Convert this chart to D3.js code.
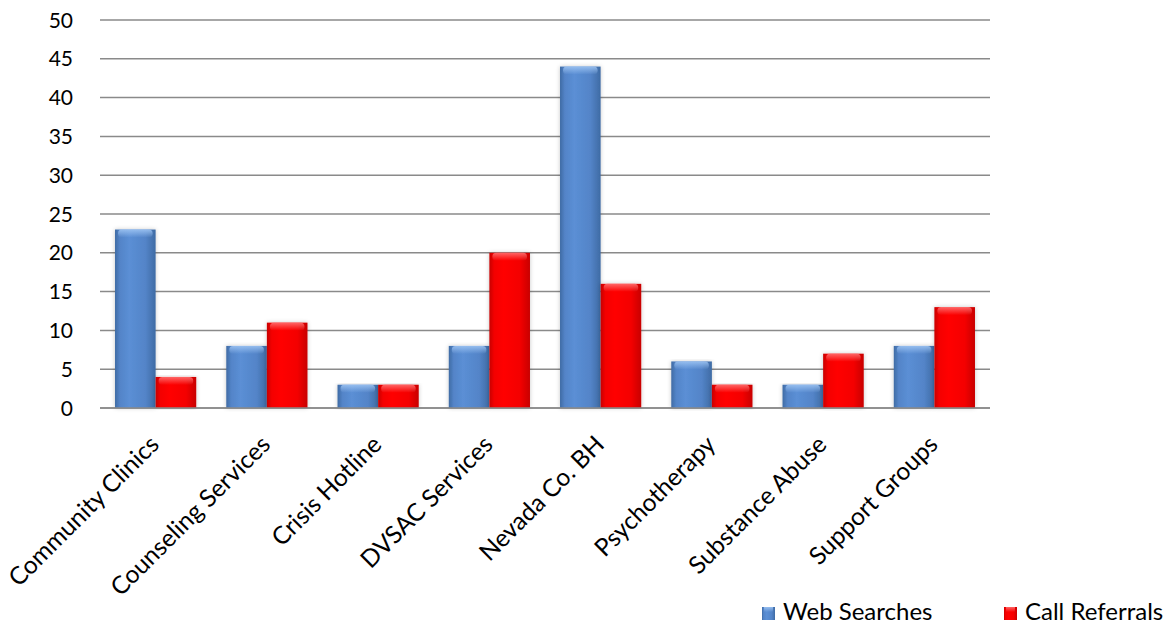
<!DOCTYPE html>
<html>
<head>
<meta charset="utf-8">
<script src="https://cdn.jsdelivr.net/npm/d3@7"></script>
<style>
  html, body { margin: 0; padding: 0; background: #fff; }
  svg { display: block; }
  text { font-family: Lato, "Open Sans", sans-serif; fill: #000; }
</style>
</head>
<body>
<svg id="chart" width="1176" height="624"></svg>
<script>
const categories = ["Community Clinics", "Counseling Services", "Crisis Hotline", "DVSAC Services",
                    "Nevada Co. BH", "Psychotherapy", "Substance Abuse", "Support Groups"];
const seriesNames = ["Web Searches", "Call Referrals"];
const webSearches = [23, 8, 3, 8, 44, 6, 3, 8];
const callReferrals = [4, 11, 3, 20, 16, 3, 7, 13];
const yTicks = [0, 5, 10, 15, 20, 25, 30, 35, 40, 45, 50];

const svg = d3.select("#chart");
const margin = { left: 100, right: 186, top: 20, bottom: 216 };
const W = 1176, H = 624;
const plotW = W - margin.left - margin.right;
const plotH = H - margin.top - margin.bottom;

const defs = svg.append("defs");
function barGrad(id, edge, mid, light) {
  const g = defs.append("linearGradient").attr("id", id).attr("x1", "0").attr("x2", "1").attr("y1", "0").attr("y2", "0");
  g.append("stop").attr("offset", "0").attr("stop-color", edge);
  g.append("stop").attr("offset", "0.12").attr("stop-color", mid);
  g.append("stop").attr("offset", "0.35").attr("stop-color", light);
  g.append("stop").attr("offset", "0.75").attr("stop-color", mid);
  g.append("stop").attr("offset", "1").attr("stop-color", edge);
}
barGrad("gBlue", "#3f6ba4", "#5384c8", "#5b8fd5");
barGrad("gRed", "#c80000", "#f40000", "#ff0000");
function topGrad(id, c) {
  const g = defs.append("linearGradient").attr("id", id).attr("x1", "0").attr("x2", "0").attr("y1", "0").attr("y2", "1");
  g.append("stop").attr("offset", "0").attr("stop-color", c).attr("stop-opacity", 0.9);
  g.append("stop").attr("offset", "1").attr("stop-color", c).attr("stop-opacity", 0);
}
topGrad("tBlue", "#9cc3f2");
topGrad("tRed", "#ff7070");
const f = defs.append("filter").attr("id", "shadow").attr("x", "-20%").attr("y", "-5%").attr("width", "140%").attr("height", "110%");
f.append("feDropShadow").attr("dx", 0).attr("dy", 0).attr("stdDeviation", 2).attr("flood-color", "#000").attr("flood-opacity", 0.22);

const g = svg.append("g").attr("transform", `translate(${margin.left},${margin.top})`);

const x0 = d3.scaleBand().domain(categories).range([0, plotW]).paddingInner(0.27).paddingOuter(0.135);
const x1 = d3.scaleBand().domain(seriesNames).range([0, x0.bandwidth()]).padding(0);
const y = d3.scaleLinear().domain([0, 50]).range([plotH, 0]);

// gridlines
g.append("g").selectAll("line").data(yTicks).join("line")
  .attr("x1", 0).attr("x2", plotW)
  .attr("y1", d => y(d)).attr("y2", d => y(d))
  .attr("stroke", "#8a8a8a").attr("stroke-width", 1.5);

// y tick labels
g.append("g").selectAll("text").data(yTicks).join("text")
  .attr("x", -27).attr("y", d => y(d)).attr("dy", "0.36em")
  .attr("text-anchor", "end").attr("font-size", 21)
  .text(d => d);

const data = categories.map((c, i) => ({ cat: c, vals: [
  { s: seriesNames[0], v: webSearches[i], fill: "url(#gBlue)", top: "url(#tBlue)" },
  { s: seriesNames[1], v: callReferrals[i], fill: "url(#gRed)", top: "url(#tRed)" }
]}));

const groups = g.append("g").selectAll("g").data(data).join("g")
  .attr("transform", d => `translate(${x0(d.cat)},0)`);
const bars = groups.selectAll("g").data(d => d.vals).join("g")
  .attr("transform", d => `translate(${x1(d.s)},0)`);
bars.append("rect")
  .attr("x", 0).attr("width", x1.bandwidth())
  .attr("y", d => y(d.v)).attr("height", d => plotH - y(d.v))
  .attr("fill", d => d.fill).attr("filter", "url(#shadow)");
bars.append("rect")
  .attr("x", 3).attr("width", x1.bandwidth() - 6)
  .attr("y", d => y(d.v)).attr("height", d => Math.min(8, plotH - y(d.v)))
  .attr("rx", 4)
  .attr("fill", d => d.top);

// baseline again on top
g.append("line").attr("x1", 0).attr("x2", plotW).attr("y1", y(0)).attr("y2", y(0))
  .attr("stroke", "#8a8a8a").attr("stroke-width", 1.5);

// x labels
g.append("g").selectAll("text").data(categories).join("text")
  .attr("text-anchor", "end").attr("font-size", 24.5)
  .attr("transform", d => `translate(${x0(d) + x0.bandwidth() / 2 + 5},${plotH + 38}) rotate(-45)`)
  .text(d => d);

// legend
const legend = svg.append("g");
const legendItems = [
  { name: seriesNames[0], x: 762, fill: "url(#gBlue)", top: "url(#tBlue)" },
  { name: seriesNames[1], x: 1004, fill: "url(#gRed)", top: "url(#tRed)" }
];
const li = legend.selectAll("g").data(legendItems).join("g")
  .attr("transform", d => `translate(${d.x},607)`);
li.append("rect").attr("width", 13).attr("height", 13).attr("fill", d => d.fill);
li.append("rect").attr("x", 2).attr("width", 9).attr("height", 5).attr("fill", d => d.top);
li.append("text").attr("x", 21).attr("y", 13).attr("font-size", 24).text(d => d.name);
</script>
</body>
</html>
